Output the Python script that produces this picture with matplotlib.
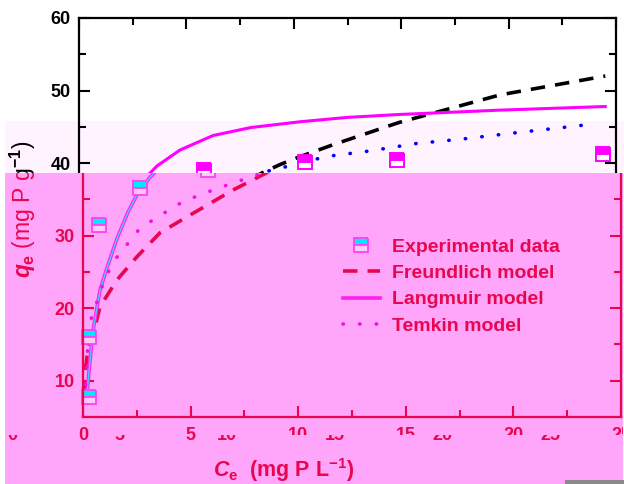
import matplotlib
matplotlib.use("Agg")
import matplotlib.pyplot as plt
import matplotlib.transforms as mtransforms
from matplotlib.patches import Rectangle

plt.rcParams['font.family'] = ['Liberation Sans', 'DejaVu Sans']
plt.rcParams['font.weight'] = 'bold'
plt.rcParams['mathtext.fontset'] = 'custom'
plt.rcParams['mathtext.rm'] = 'Liberation Sans:bold'
plt.rcParams['mathtext.it'] = 'Liberation Sans:italic:bold'
plt.rcParams['mathtext.bf'] = 'Liberation Sans:bold'

# experimental points
ce_exp = [0.3, 0.3, 0.74, 2.65, 5.8, 10.5, 14.8, 24.4]
qe_exp = [7.8, 16.0, 31.5, 36.6, 39.0, 40.1, 40.4, 41.3]

# model curves
ce_lang = [0.15, 0.3, 0.47, 0.79, 1.12, 1.58, 2.1, 2.5, 3.1, 3.63, 4.7, 6.24,
           8.0, 10.3, 12.5, 14.9, 19.6, 24.5]
qe_lang = [7.0, 12.0, 17.0, 22.5, 25.6, 29.6, 33.3, 35.6, 38.0, 39.6, 41.8, 43.8,
           44.9, 45.7, 46.3, 46.7, 47.3, 47.8]

ce_freu = [0.03, 0.1, 0.2, 0.35, 0.56, 0.79, 1.58, 2.51, 3.58, 4.84, 6.98, 8.56,
           9.36, 10.3, 11.8, 14.9, 19.6, 24.5]
qe_freu = [8.1, 11.4, 13.6, 16.0, 17.4, 20.2, 23.9, 27.1, 30.4, 32.6, 36.3, 38.7,
           39.8, 40.9, 42.5, 45.6, 49.4, 52.0]

ce_temk = [0.12, 0.22, 0.37, 0.6, 0.79, 1.07, 1.49, 2.0, 2.56, 3.26, 4.65, 6.05,
           8.1, 10.2, 11.5, 13.6, 15.7, 17.8, 19.8, 21.9, 24.0]
qe_temk = [9.5, 14.5, 18.5, 20.4, 22.2, 24.4, 26.7, 28.6, 30.7, 32.2, 34.7, 36.3,
           38.4, 39.9, 40.9, 41.7, 42.7, 43.3, 44.0, 44.7, 45.4]

x_major = [0, 5, 10, 15, 20, 25]
x_minor = [2.5, 7.5, 12.5, 17.5, 22.5]
y_major = [10, 20, 30, 40, 50, 60]
y_minor = [15, 25, 35, 45, 55]
labels = ['Experimental data', 'Freundlich model', 'Langmuir model', 'Temkin model']

CRIMSON = '#E8074F'
PINK = '#FFA5FA'
BAND = '#FFF3FF'
W, H = 624, 484

fig = plt.figure(figsize=(W / 100, H / 100), dpi=100)


def box(l, r, t, b):
    return [l / W, 1 - b / H, (r - l) / W, (b - t) / H]


def style(ax, col):
    ax.set_xlim(0, 25)
    ax.set_ylim(5, 60)
    ax.set_xticks(x_major)
    ax.set_xticks(x_minor, minor=True)
    ax.set_yticks(y_major)
    ax.set_yticks(y_minor, minor=True)
    ax.tick_params(which='both', direction='in', top=True, right=True,
                   color=col, width=1.5, labelcolor=col, labelsize=13)
    ax.tick_params(which='major', length=8)
    ax.tick_params(which='minor', length=5)
    ax.tick_params(axis='x', pad=7)
    ax.tick_params(axis='y', pad=6)
    for s in ax.spines.values():
        s.set_color(col)
        s.set_linewidth(1.6)
    ax.set_facecolor('none')


ylab = r'$q_\mathrm{e}$ (mg P g$^{-1}$)'

# upper (normal) chart
ax1 = fig.add_axes(box(79, 616, 18, 417))
ax1.set_zorder(0)
style(ax1, 'black')
ax1.tick_params(labelbottom=False)
ax1.set_yticklabels([str(v) if v >= 40 else '' for v in y_major])
ax1.plot(ce_freu, qe_freu, color='black', lw=2.6, ls=(0, (4, 2.8)))
ax1.plot(ce_lang, qe_lang, color='#FF00FF', lw=2.2)
ax1.plot(ce_temk, qe_temk, color='#0000FF', lw=2.6, ls=(0, (0.1, 4.5)),
         dash_capstyle='round')
ax1.plot(ce_exp, qe_exp, ls='none', marker='s', ms=10, fillstyle='top',
         mfc='#FF00FF', mfcalt='white', mec='#FF00FF', mew=1.4)
ax1.set_ylabel(ylab, fontsize=16.5)
ax1.yaxis.set_label_coords((38 - 79) / 537, 0.52)

fig.add_artist(Rectangle((5 / W, 1 - 173 / H), 619 / W, 52 / H,
                         transform=fig.transFigure, fc=BAND, ec='none', zorder=-1))
fig.add_artist(Rectangle((5 / W, 0), 618 / W, 311 / H,
                         transform=fig.transFigure, fc=PINK, ec='none', zorder=1))

# lower (tinted) chart
ax2 = fig.add_axes(box(83, 621, 18, 417))
ax2.set_zorder(2)
style(ax2, CRIMSON)
ax2.set_yticklabels([str(v) if v < 40 else '' for v in y_major])
h_fr, = ax2.plot(ce_freu, qe_freu, color=CRIMSON, lw=2.6, ls=(0, (4, 2.8)))
h_la, = ax2.plot(ce_lang, qe_lang, color='#FF20F0', lw=2.6)
ax2.plot(ce_lang, qe_lang, color='#4FC8FF', lw=1.0)
h_te, = ax2.plot(ce_temk, qe_temk, color='#F010E0', lw=2.6, ls=(0, (0.1, 4.5)),
                 dash_capstyle='round')
h_ex, = ax2.plot(ce_exp, qe_exp, ls='none', marker='s', ms=10, fillstyle='top',
                 mfc='#00E8FF', mfcalt='#FFC8FB', mec='#FF40F0', mew=1.3)
ax2.set_ylabel(ylab, fontsize=16.5, color=CRIMSON)
ax2.yaxis.set_label_coords((38 - 83) / 538, 0.52)
ax2.text(284 / W, 1 - 477 / H, r'$C_\mathrm{e}$  (mg P L$^{-1}$)',
         transform=fig.transFigure, ha='center', va='baseline',
         fontsize=15.5, color=CRIMSON)
ax2.legend([h_ex, h_fr, h_la, h_te], labels, loc='upper left',
           bbox_to_anchor=(343 / W, 1 - 238 / H), bbox_transform=fig.transFigure,
           frameon=False, borderpad=0, borderaxespad=0, handlelength=1.9,
           handletextpad=0.6, labelspacing=0.45, numpoints=1,
           prop=dict(size=14, weight='bold'), labelcolor=CRIMSON)

overlay = Rectangle((5 / W, 0), 618 / W, 311 / H, transform=fig.transFigure)
for a in ax2.findobj():
    if a is ax2:
        continue
    a.set_clip_path(overlay)
    a.set_clip_on(True)

# broken strip under the x axis
upper_part = Rectangle((5 / W, 49 / H), 618 / W, 262 / H, transform=fig.transFigure)
lower_part = Rectangle((5 / W, 0), 618 / W, 49 / H, transform=fig.transFigure)
for lab in ax2.get_xticklabels()[2:]:
    lab.set_clip_path(upper_part)
    lab.set_clip_on(True)
trans = mtransforms.blended_transform_factory(ax2.transData, fig.transFigure)
for v in x_major:
    t = ax2.text(v - 3.3, 1 - 427 / H, str(v), transform=trans, ha='center',
                 va='top', fontsize=13, color=CRIMSON)
    t.set_clip_path(lower_part)
    t.set_clip_on(True)

fig.add_artist(Rectangle((565 / W, 0), 59 / W, 4 / H, transform=fig.transFigure,
                         fc='#8a8a8a', ec='none', zorder=5))

fig.savefig('out.png', dpi=100)
